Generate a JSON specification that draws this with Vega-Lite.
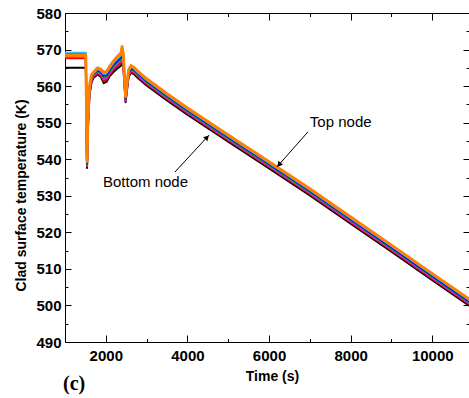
{
  "$schema": "https://vega.github.io/schema/vega-lite/v6.json",
  "width": 404,
  "height": 329,
  "autosize": {"type": "none"},
  "padding": {"left": 65, "top": 13, "right": 0, "bottom": 56},
  "background": "white",
  "config": {"view": {"stroke": null}, "font": "Liberation Sans"},
  "datasets": {
    "lines": [
      {"node":"N1","t":1000,"temp":565.0},{"node":"N1","t":1510,"temp":565.0},{"node":"N1","t":1525,"temp":552.0},{"node":"N1","t":1540,"temp":537.6},{"node":"N1","t":1560,"temp":548.0},{"node":"N1","t":1600,"temp":557.5},{"node":"N1","t":1650,"temp":561.0},{"node":"N1","t":1700,"temp":562.3},{"node":"N1","t":1800,"temp":563.2},{"node":"N1","t":1880,"temp":562.5},{"node":"N1","t":1950,"temp":560.8},{"node":"N1","t":2020,"temp":561.2},{"node":"N1","t":2100,"temp":562.8},{"node":"N1","t":2200,"temp":564.0},{"node":"N1","t":2300,"temp":565.0},{"node":"N1","t":2370,"temp":565.6},{"node":"N1","t":2400,"temp":566.8},{"node":"N1","t":2430,"temp":565.0},{"node":"N1","t":2460,"temp":560.0},{"node":"N1","t":2485,"temp":555.6},{"node":"N1","t":2510,"temp":558.0},{"node":"N1","t":2560,"temp":562.5},{"node":"N1","t":2620,"temp":563.7},{"node":"N1","t":2700,"temp":563.2},{"node":"N1","t":2800,"temp":562.1},{"node":"N1","t":3000,"temp":560.2},{"node":"N1","t":3500,"temp":556.1},{"node":"N1","t":4000,"temp":552.2},{"node":"N1","t":5000,"temp":544.8},{"node":"N1","t":6000,"temp":537.5},{"node":"N1","t":7000,"temp":530.1},{"node":"N1","t":8000,"temp":522.4},{"node":"N1","t":9000,"temp":514.7},{"node":"N1","t":10000,"temp":506.9},{"node":"N1","t":11000,"temp":499.2},
      {"node":"N2","t":1000,"temp":567.6},{"node":"N2","t":1510,"temp":567.6},{"node":"N2","t":1525,"temp":552.8},{"node":"N2","t":1540,"temp":538.0},{"node":"N2","t":1560,"temp":548.6},{"node":"N2","t":1600,"temp":558.0},{"node":"N2","t":1650,"temp":561.4},{"node":"N2","t":1700,"temp":562.6},{"node":"N2","t":1800,"temp":563.6},{"node":"N2","t":1880,"temp":562.9},{"node":"N2","t":1950,"temp":561.4},{"node":"N2","t":2020,"temp":561.8},{"node":"N2","t":2100,"temp":563.3},{"node":"N2","t":2200,"temp":564.6},{"node":"N2","t":2300,"temp":565.7},{"node":"N2","t":2370,"temp":566.3},{"node":"N2","t":2400,"temp":567.6},{"node":"N2","t":2430,"temp":565.7},{"node":"N2","t":2460,"temp":560.4},{"node":"N2","t":2485,"temp":555.9},{"node":"N2","t":2510,"temp":558.4},{"node":"N2","t":2560,"temp":562.9},{"node":"N2","t":2620,"temp":564.1},{"node":"N2","t":2700,"temp":563.6},{"node":"N2","t":2800,"temp":562.5},{"node":"N2","t":3000,"temp":560.6},{"node":"N2","t":3500,"temp":556.5},{"node":"N2","t":4000,"temp":552.6},{"node":"N2","t":5000,"temp":545.2},{"node":"N2","t":6000,"temp":537.9},{"node":"N2","t":7000,"temp":530.5},{"node":"N2","t":8000,"temp":522.8},{"node":"N2","t":9000,"temp":515.1},{"node":"N2","t":10000,"temp":507.3},{"node":"N2","t":11000,"temp":499.6},
      {"node":"N3","t":1000,"temp":568.0},{"node":"N3","t":1510,"temp":568.0},{"node":"N3","t":1525,"temp":553.4},{"node":"N3","t":1540,"temp":538.3},{"node":"N3","t":1560,"temp":549.1},{"node":"N3","t":1600,"temp":558.4},{"node":"N3","t":1650,"temp":561.7},{"node":"N3","t":1700,"temp":562.8},{"node":"N3","t":1800,"temp":563.8},{"node":"N3","t":1880,"temp":563.2},{"node":"N3","t":1950,"temp":561.9},{"node":"N3","t":2020,"temp":562.2},{"node":"N3","t":2100,"temp":563.7},{"node":"N3","t":2200,"temp":565.1},{"node":"N3","t":2300,"temp":566.2},{"node":"N3","t":2370,"temp":566.8},{"node":"N3","t":2400,"temp":568.2},{"node":"N3","t":2430,"temp":566.2},{"node":"N3","t":2460,"temp":560.7},{"node":"N3","t":2485,"temp":556.2},{"node":"N3","t":2510,"temp":558.7},{"node":"N3","t":2560,"temp":563.2},{"node":"N3","t":2620,"temp":564.4},{"node":"N3","t":2700,"temp":563.8},{"node":"N3","t":2800,"temp":562.7},{"node":"N3","t":3000,"temp":560.8},{"node":"N3","t":3500,"temp":556.7},{"node":"N3","t":4000,"temp":552.8},{"node":"N3","t":5000,"temp":545.4},{"node":"N3","t":6000,"temp":538.1},{"node":"N3","t":7000,"temp":530.7},{"node":"N3","t":8000,"temp":523.0},{"node":"N3","t":9000,"temp":515.3},{"node":"N3","t":10000,"temp":507.5},{"node":"N3","t":11000,"temp":499.8},
      {"node":"N4","t":1000,"temp":568.3},{"node":"N4","t":1510,"temp":568.3},{"node":"N4","t":1525,"temp":554.0},{"node":"N4","t":1540,"temp":538.6},{"node":"N4","t":1560,"temp":549.5},{"node":"N4","t":1600,"temp":558.8},{"node":"N4","t":1650,"temp":562.0},{"node":"N4","t":1700,"temp":563.1},{"node":"N4","t":1800,"temp":564.1},{"node":"N4","t":1880,"temp":563.6},{"node":"N4","t":1950,"temp":562.3},{"node":"N4","t":2020,"temp":562.6},{"node":"N4","t":2100,"temp":564.2},{"node":"N4","t":2200,"temp":565.5},{"node":"N4","t":2300,"temp":566.7},{"node":"N4","t":2370,"temp":567.3},{"node":"N4","t":2400,"temp":568.8},{"node":"N4","t":2430,"temp":566.8},{"node":"N4","t":2460,"temp":561.0},{"node":"N4","t":2485,"temp":556.4},{"node":"N4","t":2510,"temp":559.0},{"node":"N4","t":2560,"temp":563.5},{"node":"N4","t":2620,"temp":564.7},{"node":"N4","t":2700,"temp":564.1},{"node":"N4","t":2800,"temp":563.0},{"node":"N4","t":3000,"temp":561.1},{"node":"N4","t":3500,"temp":557.0},{"node":"N4","t":4000,"temp":553.1},{"node":"N4","t":5000,"temp":545.7},{"node":"N4","t":6000,"temp":538.4},{"node":"N4","t":7000,"temp":531.0},{"node":"N4","t":8000,"temp":523.3},{"node":"N4","t":9000,"temp":515.6},{"node":"N4","t":10000,"temp":507.8},{"node":"N4","t":11000,"temp":500.1},
      {"node":"N5","t":1000,"temp":568.9},{"node":"N5","t":1510,"temp":568.9},{"node":"N5","t":1525,"temp":554.6},{"node":"N5","t":1540,"temp":538.8},{"node":"N5","t":1560,"temp":550.0},{"node":"N5","t":1600,"temp":559.1},{"node":"N5","t":1650,"temp":562.3},{"node":"N5","t":1700,"temp":563.3},{"node":"N5","t":1800,"temp":564.4},{"node":"N5","t":1880,"temp":563.9},{"node":"N5","t":1950,"temp":562.8},{"node":"N5","t":2020,"temp":563.0},{"node":"N5","t":2100,"temp":564.6},{"node":"N5","t":2200,"temp":566.0},{"node":"N5","t":2300,"temp":567.1},{"node":"N5","t":2370,"temp":567.8},{"node":"N5","t":2400,"temp":569.4},{"node":"N5","t":2430,"temp":567.3},{"node":"N5","t":2460,"temp":561.3},{"node":"N5","t":2485,"temp":556.6},{"node":"N5","t":2510,"temp":559.3},{"node":"N5","t":2560,"temp":563.8},{"node":"N5","t":2620,"temp":564.9},{"node":"N5","t":2700,"temp":564.4},{"node":"N5","t":2800,"temp":563.3},{"node":"N5","t":3000,"temp":561.4},{"node":"N5","t":3500,"temp":557.3},{"node":"N5","t":4000,"temp":553.4},{"node":"N5","t":5000,"temp":546.0},{"node":"N5","t":6000,"temp":538.7},{"node":"N5","t":7000,"temp":531.3},{"node":"N5","t":8000,"temp":523.6},{"node":"N5","t":9000,"temp":515.9},{"node":"N5","t":10000,"temp":508.1},{"node":"N5","t":11000,"temp":500.4},
      {"node":"N6","t":1000,"temp":569.1},{"node":"N6","t":1510,"temp":569.1},{"node":"N6","t":1525,"temp":555.3},{"node":"N6","t":1540,"temp":539.2},{"node":"N6","t":1560,"temp":550.5},{"node":"N6","t":1600,"temp":559.6},{"node":"N6","t":1650,"temp":562.6},{"node":"N6","t":1700,"temp":563.5},{"node":"N6","t":1800,"temp":564.7},{"node":"N6","t":1880,"temp":564.2},{"node":"N6","t":1950,"temp":563.3},{"node":"N6","t":2020,"temp":563.5},{"node":"N6","t":2100,"temp":565.0},{"node":"N6","t":2200,"temp":566.5},{"node":"N6","t":2300,"temp":567.7},{"node":"N6","t":2370,"temp":568.4},{"node":"N6","t":2400,"temp":570.1},{"node":"N6","t":2430,"temp":567.9},{"node":"N6","t":2460,"temp":561.6},{"node":"N6","t":2485,"temp":556.9},{"node":"N6","t":2510,"temp":559.6},{"node":"N6","t":2560,"temp":564.1},{"node":"N6","t":2620,"temp":565.3},{"node":"N6","t":2700,"temp":564.7},{"node":"N6","t":2800,"temp":563.6},{"node":"N6","t":3000,"temp":561.7},{"node":"N6","t":3500,"temp":557.6},{"node":"N6","t":4000,"temp":553.7},{"node":"N6","t":5000,"temp":546.3},{"node":"N6","t":6000,"temp":539.0},{"node":"N6","t":7000,"temp":531.6},{"node":"N6","t":8000,"temp":523.9},{"node":"N6","t":9000,"temp":516.2},{"node":"N6","t":10000,"temp":508.4},{"node":"N6","t":11000,"temp":500.7},
      {"node":"N7","t":1000,"temp":568.4},{"node":"N7","t":1510,"temp":568.4},{"node":"N7","t":1525,"temp":556.0},{"node":"N7","t":1540,"temp":539.5},{"node":"N7","t":1560,"temp":551.0},{"node":"N7","t":1600,"temp":560.0},{"node":"N7","t":1650,"temp":563.0},{"node":"N7","t":1700,"temp":563.8},{"node":"N7","t":1800,"temp":565.0},{"node":"N7","t":1880,"temp":564.6},{"node":"N7","t":1950,"temp":563.8},{"node":"N7","t":2020,"temp":564.0},{"node":"N7","t":2100,"temp":565.5},{"node":"N7","t":2200,"temp":567.0},{"node":"N7","t":2300,"temp":568.3},{"node":"N7","t":2370,"temp":569.0},{"node":"N7","t":2400,"temp":570.8},{"node":"N7","t":2430,"temp":568.5},{"node":"N7","t":2460,"temp":562.0},{"node":"N7","t":2485,"temp":557.2},{"node":"N7","t":2510,"temp":560.0},{"node":"N7","t":2560,"temp":564.5},{"node":"N7","t":2620,"temp":565.6},{"node":"N7","t":2700,"temp":565.0},{"node":"N7","t":2800,"temp":563.9},{"node":"N7","t":3000,"temp":562.0},{"node":"N7","t":3500,"temp":557.9},{"node":"N7","t":4000,"temp":554.0},{"node":"N7","t":5000,"temp":546.6},{"node":"N7","t":6000,"temp":539.3},{"node":"N7","t":7000,"temp":531.9},{"node":"N7","t":8000,"temp":524.2},{"node":"N7","t":9000,"temp":516.5},{"node":"N7","t":10000,"temp":508.7},{"node":"N7","t":11000,"temp":501.0}
    ],
    "notes": [
      {"label": "Top node", "t": 7000, "temp": 548.8},
      {"label": "Bottom node", "t": 1931, "temp": 532.4}
    ],
    "panel": [
      {"label": "(c)", "t": 951, "temp": 476.8}
    ],
    "arrows": [
      {"t": 6955, "temp": 547.5, "t2": 6195, "temp2": 537.9},
      {"t": 3695, "temp": 536.5, "t2": 4529, "temp2": 546.6}
    ],
    "heads": [
      {"t": 6244, "temp": 538.5},
      {"t": 4480, "temp": 546.0}
    ]
  },
  "resolve": {"axis": {"x": "independent", "y": "independent"}},
  "layer": [
    {
      "data": {"name": "lines"},
      "mark": {"type": "line", "clip": true, "strokeJoin": "round"},
      "encoding": {
        "x": {
          "field": "t", "type": "quantitative",
          "scale": {"domain": [1000, 10900], "nice": false, "zero": false},
          "axis": {
            "orient": "bottom",
            "values": [1000, 2000, 3000, 4000, 5000, 6000, 7000, 8000, 9000, 10000],
            "format": "d",
            "labelExpr": "datum.value % 2000 === 0 ? datum.label : ''",
            "labelOverlap": false,
            "labelFlush": false,
            "tickSize": {"condition": {"test": "datum.value % 2000 === 0", "value": -7}, "value": -3.5},
            "tickColor": "black",
            "tickWidth": 1,
            "domainColor": "black",
            "domainWidth": 1,
            "grid": false,
            "labelFont": "Liberation Sans",
            "labelFontWeight": "bold",
            "labelFontSize": 15,
            "labelColor": "black",
            "labelPadding": 13,
            "title": "Time (s)",
            "titleFont": "Liberation Sans",
            "titleFontWeight": "bold",
            "titleFontSize": 14,
            "titleColor": "black",
            "titleX": 207,
            "titleY": 38,
            "titleBaseline": "alphabetic",
            "titleAlign": "center"
          }
        },
        "y": {
          "field": "temp", "type": "quantitative",
          "scale": {"domain": [490, 580], "nice": false, "zero": false},
          "axis": {
            "orient": "left",
            "values": [490, 495, 500, 505, 510, 515, 520, 525, 530, 535, 540, 545, 550, 555, 560, 565, 570, 575, 580],
            "format": "d",
            "labelExpr": "datum.value % 10 === 0 ? datum.label : ''",
            "labelOverlap": false,
            "labelFlush": false,
            "tickSize": {"condition": {"test": "datum.value % 10 === 0", "value": -6}, "value": -3},
            "tickColor": "black",
            "tickWidth": 1,
            "domainColor": "black",
            "domainWidth": 1,
            "grid": false,
            "labelFont": "Liberation Sans",
            "labelFontWeight": "bold",
            "labelFontSize": 15,
            "labelColor": "black",
            "labelPadding": 10,
            "title": "Clad surface temperature (K)",
            "titleFont": "Liberation Sans",
            "titleFontWeight": "bold",
            "titleFontSize": 14,
            "titleColor": "black",
            "titleX": -40,
            "titleY": 182,
            "titleAngle": -90,
            "titleBaseline": "alphabetic",
            "titleAlign": "center"
          }
        },
        "color": {
          "field": "node", "type": "nominal",
          "scale": {
            "domain": ["N1", "N2", "N3", "N4", "N5", "N6", "N7"],
            "range": ["#000000", "#ff0000", "#ff00ff", "#00b000", "#0000ff", "#33bbff", "#ff8000"]
          },
          "legend": null
        },
        "strokeWidth": {"condition": {"test": "datum.node === 'N7'", "value": 3}, "value": 2}
      }
    },
    {
      "data": {"name": "heads"},
      "mark": {"type": "point", "opacity": 0},
      "encoding": {
        "x": {
          "field": "t", "type": "quantitative",
          "axis": {
            "orient": "top",
            "values": [1000, 2000, 3000, 4000, 5000, 6000, 7000, 8000, 9000, 10000],
            "labels": false,
            "tickSize": {"condition": {"test": "datum.value % 2000 === 0", "value": -7}, "value": -3.5},
            "tickColor": "black",
            "domainColor": "black",
            "grid": false,
            "title": null
          }
        },
        "y": {
          "field": "temp", "type": "quantitative",
          "axis": {
            "orient": "right",
            "values": [490, 495, 500, 505, 510, 515, 520, 525, 530, 535, 540, 545, 550, 555, 560, 565, 570, 575, 580],
            "labels": false,
            "domain": false,
            "tickSize": {"condition": {"test": "datum.value % 10 === 0", "value": -6}, "value": -3},
            "tickColor": "black",
            "grid": false,
            "title": null
          }
        }
      }
    },
    {
      "data": {"name": "arrows"},
      "mark": {"type": "rule", "color": "black", "strokeWidth": 1},
      "encoding": {
        "x": {"field": "t", "type": "quantitative", "axis": null},
        "y": {"field": "temp", "type": "quantitative", "axis": null},
        "x2": {"field": "t2"},
        "y2": {"field": "temp2"}
      }
    },
    {
      "data": {"name": "heads"},
      "mark": {"type": "point", "shape": "triangle-up", "filled": true, "color": "black", "size": 35, "opacity": 1},
      "encoding": {
        "x": {"field": "t", "type": "quantitative", "axis": null},
        "y": {"field": "temp", "type": "quantitative", "axis": null},
        "angle": {"condition": {"test": "datum.t > 5000", "value": 220}, "value": 43}
      }
    },
    {
      "data": {"name": "notes"},
      "mark": {"type": "text", "align": "left", "baseline": "alphabetic", "font": "Liberation Sans", "fontSize": 15, "color": "black"},
      "encoding": {
        "x": {"field": "t", "type": "quantitative", "axis": null},
        "y": {"field": "temp", "type": "quantitative", "axis": null},
        "text": {"field": "label"}
      }
    },
    {
      "data": {"name": "panel"},
      "mark": {"type": "text", "align": "left", "baseline": "alphabetic", "font": "Liberation Serif", "fontWeight": "bold", "fontSize": 20, "color": "black", "clip": false},
      "encoding": {
        "x": {"field": "t", "type": "quantitative", "axis": null},
        "y": {"field": "temp", "type": "quantitative", "axis": null},
        "text": {"field": "label"}
      }
    }
  ]
}
